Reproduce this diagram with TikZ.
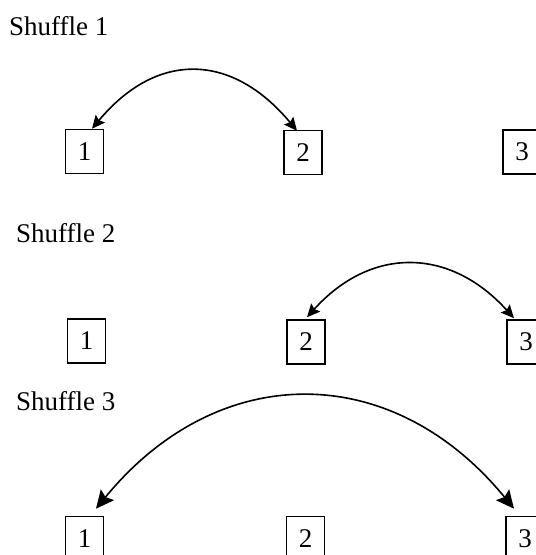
\documentclass[tikz,border=0pt]{standalone}
\usepackage{fontspec}
\setmainfont{Liberation Serif}
\usetikzlibrary{arrows.meta}
\begin{document}
\begin{tikzpicture}[x=1pt,y=-1pt,
  card/.style={draw,line width=1.6pt,minimum width=38pt,minimum height=44pt,
    inner sep=0pt,font=\fontsize{27}{30}\selectfont},
  title/.style={anchor=base west,inner sep=0pt,font=\fontsize{27}{30}\selectfont},
  swap/.style={line width=1.6pt,{Stealth[length=13pt,width=12pt,inset=2pt]}-{Stealth[length=13pt,width=12pt,inset=2pt]}},
  bigswap/.style={line width=1.6pt,{Stealth[length=18pt,width=17pt,inset=3pt]}-{Stealth[length=18pt,width=17pt,inset=3pt]}}]
\useasboundingbox (0,0) rectangle (536,555);
\clip (0,0) rectangle (536,555);

% first shuffle: swap 1 and 2
\node[title] (t1) at (9,35) {Shuffle 1};
\node[card] (b11) at (84.5,151.5) {1};
\node[card] (b12) at (303,152.5) {2};
\node[card] (b13) at (522,152) {3};
\draw[swap] ([xshift=7.5pt]b11.north) .. controls +(65,-78) and +(-65,-78) .. ([xshift=-6pt,yshift=-1pt]b12.north);

% second shuffle: swap 2 and 3
\node[title] (t2) at (16,242) {Shuffle 2};
\node[card] (b21) at (86.5,341) {1};
\node[card] (b22) at (306,342) {2};
\node[card] (b23) at (526,342) {3};
\draw[swap] ([xshift=1pt,yshift=2pt]b22.north) .. controls +(64,-71) and +(-64,-71) .. ([xshift=-12pt,yshift=1pt]b23.north);

% third shuffle: swap 1 and 3
\node[title] (t3) at (16,410) {Shuffle 3};
\node[card] (b31) at (84.5,538.5) {1};
\node[card] (b32) at (305.5,538.5) {2};
\node[card] (b33) at (525,538.5) {3};
\draw[bigswap] ([xshift=11.5pt,yshift=7pt]b31.north) .. controls +(122,-149) and +(-122,-149) .. ([xshift=-11pt,yshift=7pt]b33.north);
\end{tikzpicture}
\end{document}
